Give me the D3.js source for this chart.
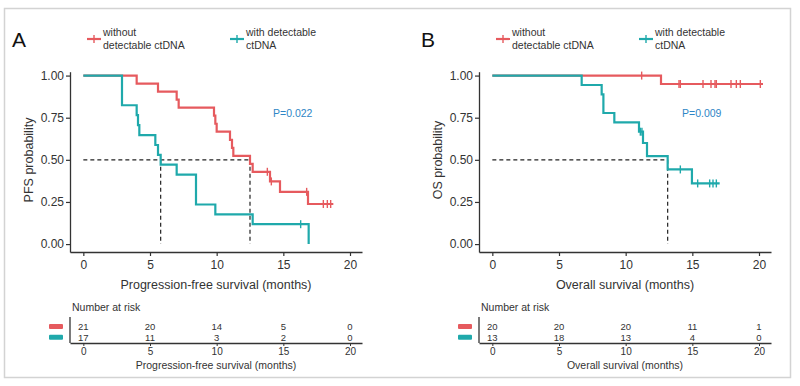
<!DOCTYPE html>
<html>
<head>
<meta charset="utf-8">
<script src="https://cdn.jsdelivr.net/npm/d3@7"></script>
<style>
  body { margin: 0; background: #fff; }
  svg text { font-family: "Liberation Sans", Arial, sans-serif; }
</style>
</head>
<body>
<svg id="chart" width="800" height="386"></svg>
<script>
// ---- data ----
const monthTicks = [0, 5, 10, 15, 20];
const probTicks = [0, 0.25, 0.5, 0.75, 1];
const groupNames = [["without", "detectable ctDNA"], ["with detectable", "ctDNA"]];

// PFS, panel A  [months, survival]
const pfsWithout = [[0,1],[4.0,0.952],[5.6,0.905],[7.0,0.857],[7.15,0.81],[9.8,0.762],[9.9,0.714],[10.0,0.667],
  [11.0,0.619],[11.15,0.571],[11.25,0.524],[12.5,0.476],[12.7,0.429],[14.0,0.372],[14.75,0.31],[16.85,0.238],[18.75,0.238]];
const pfsWithoutCensor = [[13.8,0.429],[14.1,0.372],[16.75,0.31],[18.0,0.238],[18.3,0.238],[18.55,0.238]];
const pfsWith = [[0,1],[2.9,0.824],[4.0,0.765],[4.1,0.706],[4.2,0.647],[5.4,0.588],[5.6,0.529],[5.8,0.471],
  [7.0,0.412],[8.45,0.235],[9.9,0.176],[12.7,0.118],[16.9,0]];
const pfsWithCensor = [[16.3,0.118]];
const pfsRiskWithout = [21, 20, 14, 5, 0];
const pfsRiskWith = [17, 11, 3, 2, 0];
const pfsMedians = [5.8, 12.5];

// OS, panel B
const osWithout = [[0,1],[12.65,0.95],[20.3,0.95]];
const osWithoutCensor = [[11.2,1],[14.0,0.95],[14.1,0.95],[15.8,0.95],[16.4,0.95],[16.7,0.95],[16.8,0.95],
  [17.9,0.95],[18.3,0.95],[18.6,0.95],[20.1,0.95]];
const osWith = [[0,1],[6.7,0.944],[8.2,0.889],[8.33,0.778],[9.15,0.722],[11.0,0.667],[11.3,0.6],[11.6,0.522],
  [13.15,0.443],[14.97,0.36],[17.05,0.36]];
const osWithCensor = [[11.1,0.667],[11.22,0.667],[14.1,0.443],[15.4,0.36],[16.3,0.36],[16.55,0.36],[16.8,0.36]];
const osRiskWithout = [20, 20, 20, 11, 1];
const osRiskWith = [13, 18, 13, 4, 0];
const osMedians = [13.15];

const red = "#e65a5e", teal = "#1fa9ab";

const svg = d3.select("#chart");

// light frame round the figure
svg.append("rect")
  .attr("x", 4.5).attr("y", 8.5).attr("width", 786).attr("height", 369)
  .attr("fill", "none").attr("stroke", "#d3d3d3").attr("stroke-width", 1.5);

function drawPanel(opt) {
  const g = svg.append("g").attr("transform", `translate(${opt.dx},0)`);

  const x = d3.scaleLinear().domain([-1, 20.9]).range([70, 362]);
  const y = d3.scaleLinear().domain([-0.047, 1.023]).range([252, 71.7]);

  // panel letter
  g.append("text").attr("x", 12).attr("y", 47).attr("font-size", 21)
    .attr("fill", "#111").text(opt.letter);

  // legend
  [[red, 87], [teal, 230]].forEach(([c, lx], i) => {
    g.append("line").attr("x1", lx).attr("x2", lx + 14).attr("y1", 39).attr("y2", 39)
      .attr("stroke", c).attr("stroke-width", 2.2);
    g.append("line").attr("x1", lx + 7).attr("x2", lx + 7).attr("y1", 35).attr("y2", 43)
      .attr("stroke", c).attr("stroke-width", 1.4);
    const t = g.append("text").attr("x", lx + 16).attr("y", 36).attr("font-size", 10.5).attr("fill", "#333");
    t.append("tspan").attr("x", lx + 16).attr("dy", 0).text(groupNames[i][0]);
    t.append("tspan").attr("x", lx + 16).attr("dy", 13).text(groupNames[i][1]);
  });

  // axes
  const yAxis = g.append("g").attr("transform", "translate(70,0)")
    .call(d3.axisLeft(y).tickValues(probTicks).tickFormat(d3.format(".2f")).tickSize(4).tickSizeOuter(0));
  const xAxis = g.append("g").attr("transform", "translate(0,252)")
    .call(d3.axisBottom(x).tickValues(monthTicks).tickSize(4).tickSizeOuter(0));
  [yAxis, xAxis].forEach(a => {
    a.select(".domain").attr("stroke", "#333").attr("stroke-width", 1.3);
    a.selectAll(".tick line").attr("stroke", "#333").attr("stroke-width", 1.2);
    a.selectAll(".tick text").attr("font-size", 12).attr("fill", "#333");
  });
  yAxis.selectAll(".tick text").attr("x", -6);
  xAxis.selectAll(".tick text").attr("y", 8);

  g.append("text").attr("x", 216).attr("y", 289).attr("text-anchor", "middle")
    .attr("font-size", 12.5).attr("fill", "#333").text(opt.xTitle);
  g.append("text").attr("transform", `translate(33,160) rotate(-90)`).attr("text-anchor", "middle")
    .attr("font-size", 12.5).attr("fill", "#333").text(opt.yTitle);

  // median dashed lines
  const dash = g.append("g").attr("stroke", "#222").attr("stroke-width", 1.2)
    .attr("stroke-dasharray", "4,3").attr("fill", "none");
  dash.append("line").attr("x1", x(0)).attr("x2", x(d3.max(opt.medians)))
    .attr("y1", y(0.5)).attr("y2", y(0.5));
  opt.medians.forEach(m => {
    dash.append("line").attr("x1", x(m)).attr("x2", x(m)).attr("y1", y(0.5)).attr("y2", y(0));
  });

  // KM curves
  const line = d3.line().curve(d3.curveStepAfter).x(d => x(d[0])).y(d => y(d[1]));
  [[opt.without, opt.withoutCensor, red], [opt.with, opt.withCensor, teal]].forEach(([s, cen, c]) => {
    g.append("path").datum(s).attr("d", line).attr("fill", "none")
      .attr("stroke", c).attr("stroke-width", 2.2).attr("stroke-linejoin", "miter");
    g.selectAll(null).data(cen).enter().append("line")
      .attr("x1", d => x(d[0])).attr("x2", d => x(d[0]))
      .attr("y1", d => y(d[1]) - 4).attr("y2", d => y(d[1]) + 4)
      .attr("stroke", c).attr("stroke-width", 1.4);
  });

  // p-value
  g.append("text").attr("x", 273).attr("y", 117).attr("font-size", 10.5)
    .attr("fill", "#2f86c6").text(opt.p);

  // risk table
  g.append("text").attr("x", 72).attr("y", 311).attr("font-size", 10.5).attr("fill", "#333")
    .text("Number at risk");
  const rx = g.append("g").attr("transform", "translate(0,343)")
    .call(d3.axisBottom(x).tickValues(monthTicks).tickSize(3).tickSizeOuter(0));
  rx.select(".domain").attr("stroke", "#333").attr("stroke-width", 1.3);
  rx.selectAll(".tick line").attr("stroke", "#333");
  rx.selectAll(".tick text").attr("font-size", 10).attr("fill", "#333").attr("y", 5);
  g.append("line").attr("x1", 70).attr("x2", 70).attr("y1", 317).attr("y2", 343)
    .attr("stroke", "#333").attr("stroke-width", 1.3);
  [[opt.riskWithout, red, 326.5], [opt.riskWith, teal, 337.3]].forEach(([r, c, ry]) => {
    g.append("rect").attr("x", 49).attr("y", ry - 2.5).attr("width", 14).attr("height", 5)
      .attr("rx", 1).attr("fill", c);
    g.selectAll(null).data(r).enter().append("text")
      .attr("x", (d, i) => x(monthTicks[i])).attr("y", ry + 3.3)
      .attr("text-anchor", "middle").attr("font-size", 9.5).attr("fill", "#333")
      .text(d => d);
  });
  g.append("text").attr("x", 216).attr("y", 369).attr("text-anchor", "middle")
    .attr("font-size", 10.5).attr("fill", "#333").text(opt.xTitle);
}

drawPanel({
  dx: 0, letter: "A", yTitle: "PFS probability", xTitle: "Progression-free survival (months)",
  without: pfsWithout, withoutCensor: pfsWithoutCensor, with: pfsWith, withCensor: pfsWithCensor,
  riskWithout: pfsRiskWithout, riskWith: pfsRiskWith, medians: pfsMedians, p: "P=0.022"
});
drawPanel({
  dx: 409, letter: "B", yTitle: "OS probability", xTitle: "Overall survival (months)",
  without: osWithout, withoutCensor: osWithoutCensor, with: osWith, withCensor: osWithCensor,
  riskWithout: osRiskWithout, riskWith: osRiskWith, medians: osMedians, p: "P=0.009"
});
</script>
</body>
</html>
